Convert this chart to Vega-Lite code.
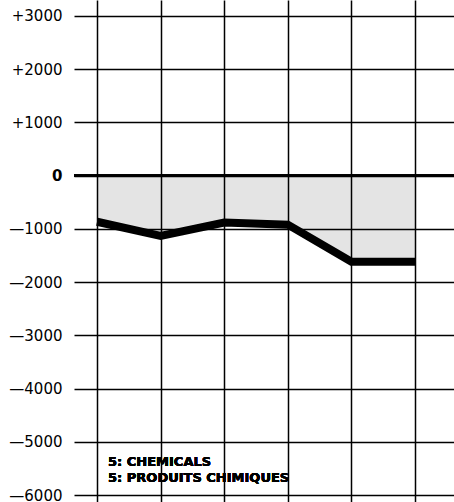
{
  "$schema": "https://vega.github.io/schema/vega-lite/v6.json",
  "width": 380,
  "height": 502,
  "autosize": {"type": "none"},
  "padding": {"left": 74, "top": 0, "right": 0, "bottom": 0},
  "background": "white",
  "config": {
    "view": {"stroke": null},
    "font": "DejaVu Sans"
  },
  "data": {
    "values": [
      {"period": 0, "balance": -865},
      {"period": 1, "balance": -1130},
      {"period": 2, "balance": -880},
      {"period": 3, "balance": -920},
      {"period": 4, "balance": -1615},
      {"period": 5, "balance": -1615}
    ]
  },
  "encoding": {
    "x": {
      "field": "period",
      "type": "quantitative",
      "scale": {"domain": [-0.362, 5.613], "nice": false, "zero": false},
      "axis": {
        "values": [0, 1, 2, 3, 4, 5],
        "zindex": 1,
        "grid": true,
        "gridColor": "black",
        "gridWidth": 1.5,
        "gridOpacity": 1,
        "labels": false,
        "ticks": false,
        "domain": false,
        "title": null
      }
    },
    "y": {
      "field": "balance",
      "type": "quantitative",
      "scale": {"domain": [-6130, 3300], "nice": false, "zero": false},
      "axis": {
        "values": [-6000, -5000, -4000, -3000, -2000, -1000, 0, 1000, 2000, 3000],
        "zindex": 1,
        "grid": true,
        "gridColor": "black",
        "gridWidth": 1.5,
        "gridOpacity": 1,
        "ticks": false,
        "domain": false,
        "title": null,
        "labelPadding": 12,
        "labelFont": "DejaVu Sans",
        "labelFontSize": 15,
        "labelColor": "black",
        "labelFontWeight": {"condition": {"test": "datum.value == 0", "value": "bold"}, "value": "normal"},
        "labelExpr": "datum.value > 0 ? '+' + datum.value : (datum.value < 0 ? '—' + abs(datum.value) : '0')"
      }
    }
  },
  "layer": [
    {
      "mark": {"type": "area", "color": "#e4e4e4", "opacity": 1},
      "encoding": {"y2": {"datum": 0}}
    },
    {
      "mark": {"type": "rule", "color": "black", "strokeWidth": 2.5},
      "encoding": {"y": {"datum": 0}, "x": {"datum": -0.362}, "x2": {"datum": 5.613}}
    },
    {
      "mark": {"type": "line", "color": "black", "strokeWidth": 8, "strokeCap": "butt", "strokeJoin": "miter"}
    },
    {
      "mark": {"type": "text", "align": "left", "baseline": "middle", "font": "DejaVu Sans", "fontWeight": "bold", "fontSize": 13, "color": "black"},
      "encoding": {
        "x": {"datum": 0.173},
        "y": {"datum": -5379},
        "text": {"value": "5: CHEMICALS"}
      }
    },
    {
      "mark": {"type": "text", "align": "left", "baseline": "middle", "font": "DejaVu Sans", "fontWeight": "bold", "fontSize": 13, "color": "black"},
      "encoding": {
        "x": {"datum": 0.173},
        "y": {"datum": -5679},
        "text": {"value": "5: PRODUITS CHIMIQUES"}
      }
    }
  ]
}
